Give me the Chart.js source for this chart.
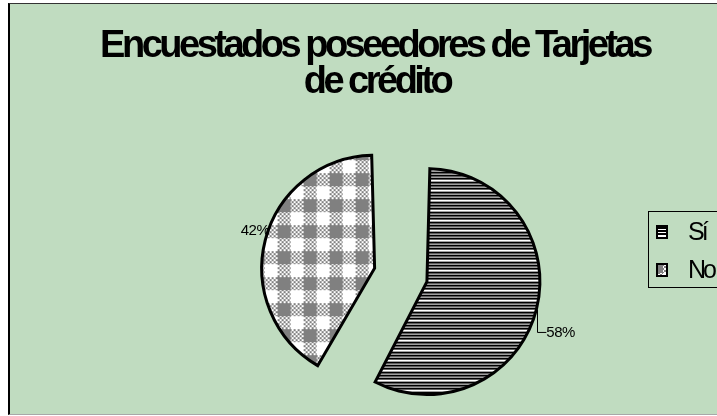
<!DOCTYPE html>
<html>
<head>
<meta charset="utf-8">
<script src="https://cdn.jsdelivr.net/npm/chart.js@4.4.1/dist/chart.umd.min.js"></script>
<style>
  html, body { margin: 0; padding: 0; background: #fff; overflow: hidden; width: 717px; height: 416px; }
  #frame { position: absolute; left: 8px; top: 3px; width: 760px; height: 410px; background: #c0dcc0;
           border-left: 2px solid #000; border-top: 1px solid #333; border-bottom: 1px solid #a8a8a8; }
  #chart { position: absolute; left: 0; top: 0; }
</style>
</head>
<body>
<div id="frame"></div>
<canvas id="chart" width="750" height="416"></canvas>
<script>
const titleLines = ['Encuestados poseedores de Tarjetas', 'de crédito'];
const categories = ['Sí', 'No'];
const shares = [58, 42];

const ctx = document.getElementById('chart').getContext('2d');

// horizontal black/white lines
function makeStripes() {
  const t = document.createElement('canvas');
  t.width = 4; t.height = 10;
  const g = t.getContext('2d');
  g.fillStyle = '#fff';
  g.fillRect(0, 0, 4, 10);
  g.fillStyle = '#000';
  g.fillRect(0, 0, 4, 2);
  g.fillRect(0, 3, 4, 2);
  g.fillRect(0, 7, 4, 2);
  return ctx.createPattern(t, 'repeat');
}

// gray and white squares, small checks between them
function makeChecks() {
  const t = document.createElement('canvas');
  t.width = 26; t.height = 26;
  const g = t.getContext('2d');
  g.fillStyle = '#fff';
  g.fillRect(0, 0, 26, 26);
  g.fillStyle = '#808080';
  g.fillRect(0, 0, 13, 13);
  for (let y = 0; y < 26; y++) {
    for (let x = 0; x < 26; x++) {
      const mixed = (x < 13) !== (y < 13);
      if (mixed && (Math.floor(x / 2) + Math.floor(y / 2)) % 2 === 0) g.fillRect(x, y, 1, 1);
    }
  }
  return ctx.createPattern(t, 'repeat');
}

const fills = [makeStripes(), makeChecks()];

const titlePlugin = {
  id: 'titleText',
  afterDraw(c) {
    const g = c.ctx;
    g.save();
    g.font = 'bold 38px "Liberation Sans", Arial, sans-serif';
    g.letterSpacing = '-3.5px';
    g.fillStyle = '#000';
    g.textAlign = 'center';
    g.textBaseline = 'alphabetic';
    g.fillText(titleLines[0], 375, 57);
    g.fillText(titleLines[1], 377, 93);
    g.restore();
  }
};

const labelPlugin = {
  id: 'pctLabels',
  afterDatasetsDraw(c) {
    const g = c.ctx;
    const meta = c.getDatasetMeta(0);
    const total = shares.reduce((a, b) => a + b, 0);
    g.save();
    g.font = '15px "Liberation Sans", Arial, sans-serif';
    g.letterSpacing = '-0.5px';
    g.fillStyle = '#000';
    g.strokeStyle = '#000';
    g.lineWidth = 1;
    g.textBaseline = 'middle';
    meta.data.forEach((arc, i) => {
      const p = arc.getProps(['x', 'y', 'startAngle', 'endAngle', 'outerRadius', 'circumference'], true);
      const mid = (p.startAngle + p.endAngle) / 2;
      // same shift and growth the arc element applies for its offset
      const off = (arc.options.offset || 0) / 4;
      const fix = 1 - Math.sin(Math.min(Math.PI, p.circumference));
      const r = off * (1 + fix) + p.outerRadius + 1;
      const px = p.x + Math.cos(mid) * r;
      const py = p.y + Math.sin(mid) * r;
      const txt = Math.round(shares[i] / total * 100) + '%';
      if (Math.cos(mid) > 0) {
        g.beginPath();
        g.moveTo(Math.round(px) + 0.5, py);
        g.lineTo(Math.round(px) + 0.5, py + 22.5);
        g.lineTo(px + 9, py + 22.5);
        g.stroke();
        g.textAlign = 'left';
        g.fillText(txt, px + 9, py + 23);
      } else {
        g.textAlign = 'right';
        g.fillText(txt, px + 5, py - 9);
      }
    });
    g.restore();
  }
};

const legendPlugin = {
  id: 'boxLegend',
  afterDraw(c) {
    const g = c.ctx;
    const ds = c.data.datasets[0];
    g.save();
    g.strokeStyle = '#000';
    g.lineWidth = 1;
    g.strokeRect(648.5, 211.5, 120, 76);
    g.font = '25px "Liberation Sans", Arial, sans-serif';
    g.letterSpacing = '-3px';
    g.textBaseline = 'middle';
    g.textAlign = 'left';
    c.data.labels.forEach((lab, i) => {
      const y = 232 + i * 38;
      g.fillStyle = ds.backgroundColor[i];
      g.fillRect(657, y - 6, 10, 12);
      g.strokeStyle = '#000';
      g.lineWidth = 2;
      g.strokeRect(657, y - 6, 10, 12);
      g.fillStyle = '#000';
      g.fillText(lab, 688, y + 1);
    });
    g.restore();
  }
};

const chart = new Chart(ctx, {
  type: 'pie',
  data: {
    labels: categories,
    datasets: [{
      data: shares,
      backgroundColor: fills,
      borderColor: '#000',
      borderWidth: 3,
      borderJoinStyle: 'miter',
      offset: [74, 142],
      radius: 94.5
    }]
  },
  options: {
    responsive: false,
    animation: false,
    devicePixelRatio: 1,
    layout: { padding: { left: 259, right: 191, top: 139, bottom: 1 } },
    plugins: {
      legend: { display: false },
      title: { display: false },
      tooltip: { enabled: false }
    }
  },
  plugins: [titlePlugin, labelPlugin, legendPlugin]
});
</script>
</body>
</html>
